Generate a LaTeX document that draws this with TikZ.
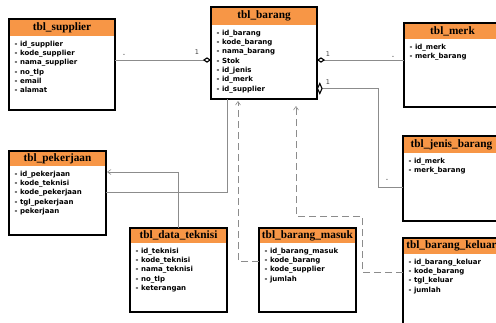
\documentclass[tikz,border=0pt]{standalone}
\usepackage{fontspec}
\setmainfont{Liberation Serif}
\newfontfamily\attrfont{DejaVu Sans}
\usetikzlibrary{arrows.meta,calc}

\definecolor{hdrorange}{HTML}{F79646}
\definecolor{linegray}{HTML}{8C8C8C}

% one ER table: name, x, y, width, height, header height, title, rows
\newcommand\erTable[8]{%
  \fill[hdrorange] (#2,#3) rectangle ++(#4,#6);
  \node[tblbox, minimum width=#4pt, minimum height=#5pt, anchor=north west] (#1) at (#2,#3) {};
  \node[tbltitle] (#1-title) at ($(#2,#3)+(#4/2,#6/2)$) {#7};
  \foreach \row [count=\i] in {#8}
    \node[tblrow] (#1-r\i) at (#2+5.5, #3+#6+10.3+9.3*\i-9.3) {- \row};
}

\tikzset{
  tblbox/.style={draw=black, line width=1.3pt, inner sep=0pt, outer sep=0pt},
  tbltitle/.style={font=\fontsize{11.3}{12}\selectfont\bfseries, inner sep=0pt},
  tblrow/.style={font=\attrfont\bfseries\fontsize{7}{8}\selectfont, anchor=base west, inner sep=0pt},
  conn/.style={draw=linegray, line width=0.8pt},
  dconn/.style={draw=linegray, line width=0.8pt, dash pattern=on 7pt off 4pt},
  barb/.style={-{Straight Barb[length=3.5pt,width=5pt,line width=0.6pt]}},
  agg/.style={{Diamond[open,black,length=8pt,width=5.5pt,line width=1.1pt]}-},
  mult/.style={font=\attrfont\fontsize{6.5}{7}\selectfont, text=black!75, inner sep=0pt},
}

\begin{document}
\begin{tikzpicture}[x=1pt, y=-1pt]
  \useasboundingbox (0,0) rectangle (496,322);
  \fill[white] (0,0) rectangle (496,322);
  \clip (0,0) rectangle (496,322);

  \erTable{sup}{9}{19}{106}{91}{17}{tbl\_supplier}%
    {id\_supplier, kode\_supplier, nama\_supplier, no\_tlp, email, alamat}
  \erTable{bar}{211}{7}{106}{92}{18}{tbl\_barang}%
    {id\_barang, kode\_barang, nama\_barang, Stok, id\_jenis, id\_merk, id\_supplier}
  \erTable{merk}{404}{23}{97}{84}{16}{tbl\_merk}%
    {id\_merk, merk\_barang}
  \erTable{jenis}{403}{136}{97}{85}{17}{tbl\_jenis\_barang}%
    {id\_merk, merk\_barang}
  \erTable{pek}{9}{151}{97}{84}{15}{tbl\_pekerjaan}%
    {id\_pekerjaan, kode\_teknisi, kode\_pekerjaan, tgl\_pekerjaan, pekerjaan}
  \erTable{tek}{130}{228}{97}{84}{15}{tbl\_data\_teknisi}%
    {id\_teknisi, kode\_teknisi, nama\_teknisi, no\_tlp, keterangan}
  \erTable{mas}{259}{228}{97}{84}{15}{tbl\_barang\_masuk}%
    {id\_barang\_masuk, kode\_barang, kode\_supplier, jumlah}
  \erTable{kel}{403}{238}{97}{90}{16}{tbl\_barang\_keluar}%
    {id\_barang\_keluar, kode\_barang, tgl\_keluar, jumlah}

  % associations between the tables
  \draw[conn, agg] (bar.west |- 0,60) -- (sup.east |- 0,60);
  \draw[conn, agg] (bar.east |- 0,60) -- (merk.west |- 0,60);
  \coordinate (jdia) at (bar.east |- 0,88.5);
  \draw[conn] ([xshift=5pt]jdia) -- (378,88.5) |- (jenis.west |- 0,187);
  \draw[black, fill=white, line width=1.1pt]
    ([xshift=0.5pt]jdia) -- ++(2.3,-5) -- ++(2.2,5) -- ++(-2.2,5) -- cycle;
  \draw[conn] (pek.east |- 0,192) -| (bar.south -| 227,0);
  \draw[conn, barb, shorten >=1pt] (tek.north) |- (pek.east |- 0,172);

  % dependencies on tbl_barang
  \draw[dconn, barb, shorten >=2pt] (mas.west |- 0,261) -| (bar.south -| 238,0);
  \draw[dconn, barb, shorten >=7pt]
    (kel.west |- 0,272) -- (362,272) |- (296,216) -- (bar.south -| 296,0);

  % multiplicities
  \node[mult] (m1) at (197,52) {1};
  \node[mult] (m2) at (328,54) {1};
  \node[mult] (m3) at (328,82) {1};
  \node[mult] (d1) at (124,55) {-};
  \node[mult] (d2) at (393,57) {-};
  \node[mult] (d3) at (387,180) {-};
\end{tikzpicture}
\end{document}
